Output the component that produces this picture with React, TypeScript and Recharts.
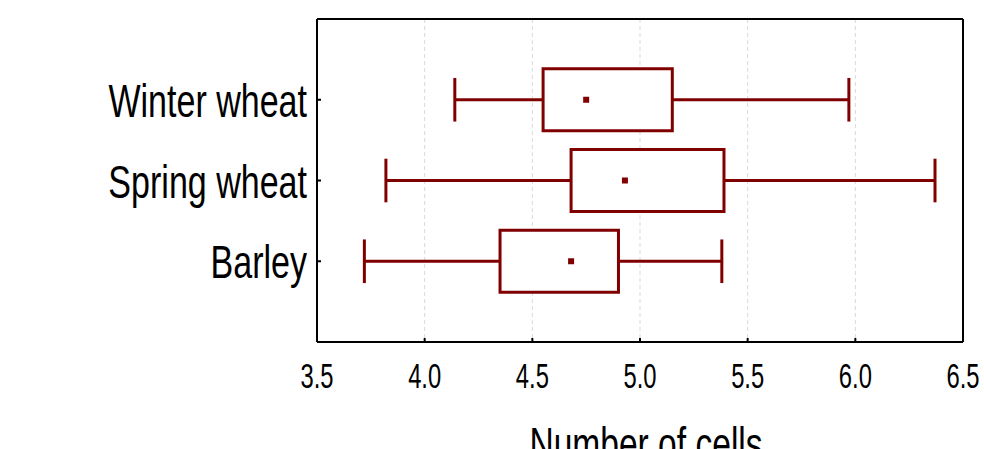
import {
  CartesianGrid,
  ComposedChart,
  ReferenceArea,
  ReferenceLine,
  Scatter,
  XAxis,
  YAxis,
} from "recharts";

const categories = ["Winter wheat", "Spring wheat", "Barley"];
const positions = [1, 2, 3];
const whiskerLow = [4.14, 3.82, 3.72];
const q1 = [4.55, 4.68, 4.35];
const q3 = [5.15, 5.39, 4.9];
const whiskerHigh = [5.97, 6.37, 5.38];
const means = [4.75, 4.93, 4.68];
const xTicks = [3.5, 4.0, 4.5, 5.0, 5.5, 6.0, 6.5];

const RED = "#800000";
const BOX_HALF = 0.385;
const CAP_HALF = 0.27;

const meanData = means.map((m, i) => ({ x: m, y: positions[i] }));

function BottomTick({ x, y, payload }: any) {
  return (
    <g>
      <line x1={x} y1={y} x2={x} y2={y - 4} stroke="#000" strokeWidth={2} />
      <text
        transform={`translate(${x},${y + 46}) scale(0.68,1)`}
        textAnchor="middle"
        fontFamily="Liberation Sans, Arial, sans-serif"
        fontSize={35}
        fill="#000"
      >
        {payload.value.toFixed(1)}
      </text>
    </g>
  );
}

function TopTick({ x, y }: any) {
  return <line x1={x} y1={y} x2={x} y2={y + 4} stroke="#000" strokeWidth={2} />;
}

function LeftTick({ x, y, payload }: any) {
  const name = categories[positions.indexOf(payload.value)] ?? "";
  return (
    <g>
      <line x1={x} y1={y} x2={x + 4} y2={y} stroke="#000" strokeWidth={2} />
      <text
        transform={`translate(${x - 10},${y + 17}) scale(0.74,1)`}
        textAnchor="end"
        fontFamily="Liberation Sans, Arial, sans-serif"
        fontSize={46}
        fill="#000"
      >
        {name}
      </text>
    </g>
  );
}

function RightTick({ x, y }: any) {
  return <line x1={x} y1={y} x2={x - 4} y2={y} stroke="#000" strokeWidth={2} />;
}

function AxisTitle({ viewBox }: any) {
  const cx = viewBox.x + viewBox.width / 2 + 6;
  return (
    <text
      transform={`translate(${cx},${viewBox.y + 118}) scale(0.73,1)`}
      textAnchor="middle"
      fontFamily="Liberation Sans, Arial, sans-serif"
      fontSize={46}
      fill="#000"
    >
      Number of cells
    </text>
  );
}

function MeanDot({ cx, cy }: any) {
  return <rect x={cx - 3} y={cy - 3} width={6} height={6} fill={RED} />;
}

export default function App() {
  return (
    <div style={{ position: "absolute", left: 0, top: 0, background: "#fff" }}>
      <ComposedChart
        width={984}
        height={449}
        margin={{ top: 0, right: 0, left: 0, bottom: 0 }}
      >
        <CartesianGrid
          horizontal={false}
          stroke="#d9d9d9"
          strokeDasharray="4 3"
        />
        <XAxis
          type="number"
          dataKey="x"
          domain={[3.5, 6.5]}
          ticks={xTicks}
          height={107}
          tickSize={0}
          tickMargin={0}
          tickLine={false}
          axisLine={{ stroke: "#000", strokeWidth: 2 }}
          tick={<BottomTick />}
          interval={0}
          label={{ content: <AxisTitle /> }}
        />
        <XAxis
          xAxisId="top"
          orientation="top"
          type="number"
          domain={[3.5, 6.5]}
          ticks={xTicks}
          height={19}
          tickSize={0}
          tickMargin={0}
          tickLine={false}
          axisLine={{ stroke: "#000", strokeWidth: 2 }}
          tick={<TopTick />}
          interval={0}
        />
        <YAxis
          type="number"
          dataKey="y"
          domain={[0, 4]}
          ticks={positions}
          reversed
          width={317}
          tickSize={0}
          tickMargin={0}
          tickLine={false}
          axisLine={{ stroke: "#000", strokeWidth: 2 }}
          tick={<LeftTick />}
          interval={0}
        />
        <YAxis
          yAxisId="right"
          orientation="right"
          type="number"
          domain={[0, 4]}
          ticks={positions}
          reversed
          width={21}
          tickSize={0}
          tickMargin={0}
          tickLine={false}
          axisLine={{ stroke: "#000", strokeWidth: 2 }}
          tick={<RightTick />}
          interval={0}
        />
        {positions.map((p, i) => (
          <ReferenceLine
            key={`wl${i}`}
            segment={[
              { x: whiskerLow[i], y: p },
              { x: q1[i], y: p },
            ]}
            stroke={RED}
            strokeWidth={3}
          />
        ))}
        {positions.map((p, i) => (
          <ReferenceLine
            key={`wh${i}`}
            segment={[
              { x: q3[i], y: p },
              { x: whiskerHigh[i], y: p },
            ]}
            stroke={RED}
            strokeWidth={3}
          />
        ))}
        {positions.map((p, i) => (
          <ReferenceLine
            key={`cl${i}`}
            segment={[
              { x: whiskerLow[i], y: p - CAP_HALF },
              { x: whiskerLow[i], y: p + CAP_HALF },
            ]}
            stroke={RED}
            strokeWidth={3}
          />
        ))}
        {positions.map((p, i) => (
          <ReferenceLine
            key={`ch${i}`}
            segment={[
              { x: whiskerHigh[i], y: p - CAP_HALF },
              { x: whiskerHigh[i], y: p + CAP_HALF },
            ]}
            stroke={RED}
            strokeWidth={3}
          />
        ))}
        {positions.map((p, i) => (
          <ReferenceArea
            key={`box${i}`}
            x1={q1[i]}
            x2={q3[i]}
            y1={p - BOX_HALF}
            y2={p + BOX_HALF}
            fill="#fff"
            fillOpacity={1}
            stroke={RED}
            strokeWidth={3}
          />
        ))}
        <Scatter
          data={meanData}
          dataKey="y"
          shape={<MeanDot />}
          isAnimationActive={false}
        />
      </ComposedChart>
    </div>
  );
}
